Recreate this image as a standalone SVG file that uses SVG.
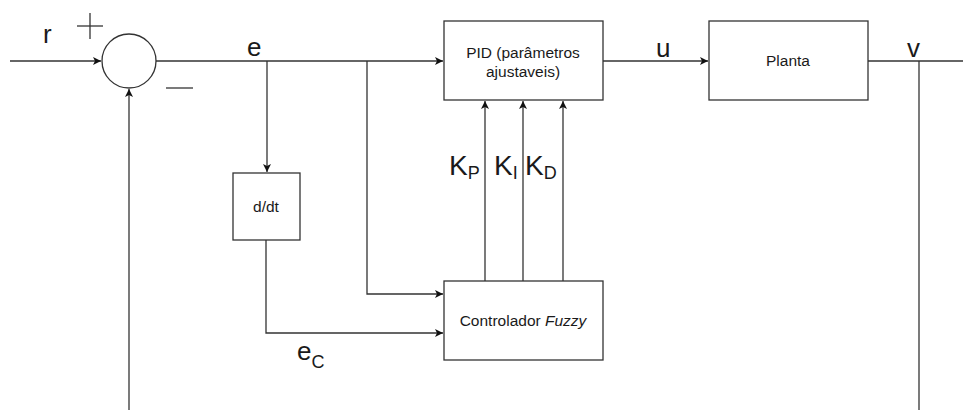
<svg xmlns="http://www.w3.org/2000/svg" width="963" height="410" viewBox="0 0 963 410">
<style>
.ln{stroke:#333;stroke-width:1.3;fill:none}
.bx{stroke:#333;stroke-width:1.3;fill:#fff}
.t{font-family:"Liberation Sans",Arial,sans-serif;fill:#1a1a1a}
.s{font-size:15.5px}
.b{font-size:26px}
.k{font-size:28px}
.sub{font-size:18px}
</style>
<defs>
<marker id="a" markerWidth="10" markerHeight="10" refX="9" refY="5" orient="auto" markerUnits="userSpaceOnUse">
<path d="M1,1 L9,5 L1,9 L3,5 Z" fill="#111"/>
</marker>
</defs>
<g id="connectors">
<line class="ln" x1="10" y1="61" x2="101" y2="61" marker-end="url(#a)"/>
<line class="ln" x1="156" y1="61" x2="443" y2="61" marker-end="url(#a)"/>
<line class="ln" x1="267" y1="61" x2="267" y2="172" marker-end="url(#a)"/>
<polyline class="ln" points="367,61 367,294 443,294" marker-end="url(#a)"/>
<polyline class="ln" points="266,240 266,333 443,333" marker-end="url(#a)"/>
<line class="ln" x1="485" y1="281" x2="485" y2="101" marker-end="url(#a)"/>
<line class="ln" x1="523" y1="281" x2="523" y2="101" marker-end="url(#a)"/>
<line class="ln" x1="563" y1="281" x2="563" y2="101" marker-end="url(#a)"/>
<line class="ln" x1="603" y1="61" x2="708" y2="61" marker-end="url(#a)"/>
<line class="ln" x1="868" y1="61" x2="963" y2="61"/>
<line class="ln" x1="919" y1="61" x2="919" y2="410"/>
<line class="ln" x1="129" y1="410" x2="129" y2="89" marker-end="url(#a)"/>
</g>
<g id="sum">
<circle class="bx" cx="129" cy="61" r="27"/>
<line class="ln" x1="77" y1="26" x2="103" y2="26"/>
<line class="ln" x1="90" y1="13" x2="90" y2="39"/>
<line class="ln" x1="166" y1="88" x2="193" y2="88"/>
</g>
<g id="pid">
<rect class="bx" x="444" y="21" width="159" height="79"/>
<text class="t s" x="523" y="58" text-anchor="middle">PID (parâmetros</text>
<text class="t s" x="523" y="77" text-anchor="middle">ajustaveis)</text>
</g>
<g id="planta">
<rect class="bx" x="709" y="21" width="159" height="79"/>
<text class="t s" x="788" y="66" text-anchor="middle">Planta</text>
</g>
<g id="ddt">
<rect class="bx" x="233" y="173" width="67" height="67"/>
<text class="t s" x="266" y="212" text-anchor="middle">d/dt</text>
</g>
<g id="fuzzy">
<rect class="bx" x="444" y="281" width="159" height="79"/>
<text class="t s" x="523" y="326" text-anchor="middle">Controlador <tspan font-style="italic">Fuzzy</tspan></text>
</g>
<g id="labels">
<text class="t b" x="43" y="43">r</text>
<text class="t b" x="247" y="56">e</text>
<text class="t b" x="656" y="57">u</text>
<text class="t b" x="907" y="57">v</text>
<text class="t k" x="449" y="175">K<tspan class="sub" dy="4">P</tspan></text>
<text class="t k" x="494" y="175">K<tspan class="sub" dy="4">I</tspan></text>
<text class="t k" x="525" y="175">K<tspan class="sub" dy="4">D</tspan></text>
<text class="t b" x="297" y="360">e<tspan class="sub" dy="8">C</tspan></text>
</g>
</svg>
